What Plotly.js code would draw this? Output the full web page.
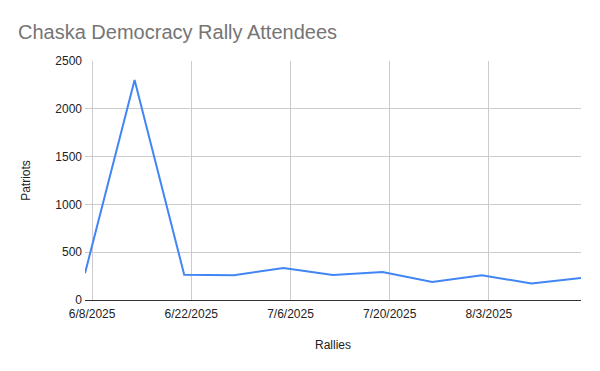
<!DOCTYPE html>
<html>
<head>
<meta charset="utf-8">
<script src="https://cdn.plot.ly/plotly-3.0.1.min.js"></script>
<style>html,body{margin:0;padding:0;background:#fff;}#chart{width:600px;height:371px;}</style>
</head>
<body>
<div id="chart"></div>
<script>
const rallyDates = ["2025-06-07","2025-06-14","2025-06-21","2025-06-28","2025-07-05","2025-07-12","2025-07-19","2025-07-26","2025-08-02","2025-08-09","2025-08-16"];
const patriots = [280, 2300, 265, 258, 335, 262, 292, 188, 258, 174, 230];
const yTicks = [0, 500, 1000, 1500, 2000, 2500];

const trace = {
  x: rallyDates,
  y: patriots,
  type: "scatter",
  mode: "lines",
  line: {color: "#4285F4", width: 2},
  hoverinfo: "x+y"
};

const layout = {
  width: 600,
  height: 371,
  margin: {l: 85, r: 19, t: 61, b: 71},
  paper_bgcolor: "#fff",
  plot_bgcolor: "#fff",
  font: {family: "Arial, 'Liberation Sans', sans-serif", size: 12, color: "#222"},
  title: {
    text: "Chaska Democracy Rally Attendees",
    x: 0.03, xanchor: "left", xref: "container",
    y: 0.915, yanchor: "middle", yref: "container",
    font: {family: "Arial, 'Liberation Sans', sans-serif", size: 20, color: "#757575"}
  },
  showlegend: false,
  xaxis: {
    type: "date",
    range: ["2025-06-07", "2025-08-16"],
    tick0: "2025-06-08",
    dtick: 14 * 86400000,
    tickformat: "%-m/%-d/%Y",
    showgrid: true,
    gridcolor: "#cccccc",
    gridwidth: 1,
    zeroline: false,
    showline: false,
    ticks: "",
    ticklabelstandoff: 5,
    tickfont: {size: 12, color: "#222"},
    title: {text: "Rallies", font: {size: 12, color: "#222"}, standoff: 20}
  },
  yaxis: {
    range: [0, 2500],
    tickvals: yTicks,
    ticktext: yTicks.map(String),
    showgrid: true,
    gridcolor: "#cccccc",
    gridwidth: 1,
    zeroline: true,
    zerolinecolor: "#333333",
    zerolinewidth: 1,
    ticks: "",
    ticklabelstandoff: 2,
    tickfont: {size: 12, color: "#222"},
    title: {text: "Patriots", font: {size: 12, color: "#222"}, standoff: 22}
  }
};

Plotly.newPlot("chart", [trace], layout, {displayModeBar: false, staticPlot: true});
</script>
</body>
</html>
